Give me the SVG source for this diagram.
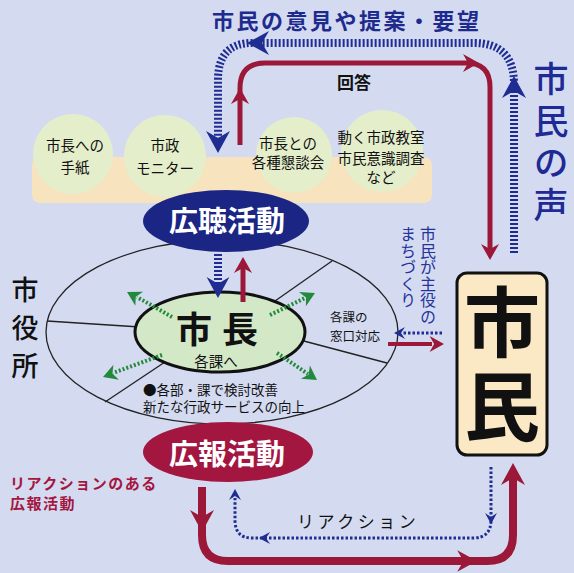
<svg xmlns="http://www.w3.org/2000/svg" xmlns:xlink="http://www.w3.org/1999/xlink" width="574" height="573" viewBox="0 0 574 573">
<style>
.jp{font-family:"Noto Sans CJK JP","Noto Sans CJK SC",sans-serif}
.ctext{font-size:14.5px;fill:#111;text-anchor:middle}
.stripe{fill:none;stroke:#1f2c92;stroke-width:8;stroke-dasharray:2 2}
.red{fill:none;stroke:#9b1838}
.dotb{fill:none;stroke:#1f2c92;stroke-width:3;stroke-dasharray:2.5 2}
.dotg{fill:none;stroke:#23893b;stroke-width:4;stroke-dasharray:2 2}
.circ{fill:#e5eecb}
.spoke{stroke:#222;stroke-width:1.3;fill:none}
</style>
<defs>
<path id="ahB" d="M0,0 L-22,-12 L-15,0 L-22,12 Z"/>
<path id="ahR" d="M0,0 L-16,-9 L-11,0 L-16,9 Z"/>
<path id="ahS" d="M0,0 L-11,-6 L-7,0 L-11,6 Z"/>
<path id="ahG" d="M0,0 L-14,-8 L-10,0 L-14,8 Z"/>
</defs>
<rect width="574" height="573" fill="#d4dbf1"/>

<g id="title">
<text class="jp" x="212" y="29" font-size="22" font-weight="700" fill="#1e2a8e" letter-spacing="2.5">市民の意見や提案・要望</text>
</g>
<g id="voice">
<text class="jp" x="551" y="61" font-size="35" font-weight="500" fill="#1e2a95" writing-mode="vertical-rl" letter-spacing="7">市民の声</text>
</g>
<g id="answer-label">
<text class="jp" x="354" y="89" font-size="17" font-weight="700" fill="#111" text-anchor="middle">回答</text>
</g>

<g id="listening-methods">
<rect x="32" y="157" width="400" height="46" rx="8" fill="#f7e3bd"/>
<circle class="circ" cx="73" cy="154" r="40"/>
<circle class="circ" cx="165" cy="156" r="41"/>
<circle class="circ" cx="294" cy="155" r="38"/>
<circle class="circ" cx="382" cy="151" r="41"/>
<text class="jp ctext" x="75" y="151">市長への</text>
<text class="jp ctext" x="75" y="173">手紙</text>
<text class="jp ctext" x="165" y="151">市政</text>
<text class="jp ctext" x="165" y="174">モニター</text>
<text class="jp ctext" x="288" y="149" font-size="12.5">市長との</text>
<text class="jp ctext" x="288" y="168" font-size="12.5">各種懇談会</text>
<text class="jp ctext" x="381" y="143" font-size="11">動く市政教室</text>
<text class="jp ctext" x="381" y="164" font-size="11">市民意識調査</text>
<text class="jp ctext" x="381" y="183" font-size="11">など</text>
</g>

<g id="city-hall">
<ellipse cx="222" cy="332" rx="176" ry="92" fill="none" stroke="#222" stroke-width="1.3"/>
<line class="spoke" x1="47" y1="321" x2="140" y2="327"/>
<line class="spoke" x1="275" y1="301" x2="332" y2="261"/>
<line class="spoke" x1="300" y1="340" x2="387" y2="363"/>
<line class="spoke" x1="165" y1="362" x2="105" y2="402"/>
<text class="jp" x="25" y="276" font-size="27" font-weight="500" fill="#111" writing-mode="vertical-rl" letter-spacing="11">市役所</text>
<text class="jp" font-size="13.5" fill="#111"><tspan x="143" y="395">●各部・課で検討改善</tspan><tspan x="143" y="412">新たな行政サービスの向上</tspan></text>
<text class="jp" font-size="12.5" fill="#111"><tspan x="330" y="322">各課の</tspan><tspan x="330" y="341">窓口対応</tspan></text>
</g>

<g id="koucho">
<ellipse cx="226" cy="221" rx="83" ry="31" fill="#1b2584"/>
<text class="jp" x="227" y="232" font-size="29" font-weight="700" fill="#fff" text-anchor="middle">広聴活動</text>
</g>

<g id="mayor">
<ellipse cx="220" cy="332" rx="85" ry="40" fill="#d3e8c6" stroke="#111" stroke-width="3"/>
<text class="jp" fill="#111" text-anchor="middle"><tspan x="222" y="343" font-size="36" font-weight="700" letter-spacing="10">市長</tspan><tspan x="216" y="367" font-size="14.5">各課へ</tspan></text>
</g>

<g id="citizens">
<rect x="457" y="273" width="90" height="182" rx="10" fill="#fbe8c4" stroke="#111" stroke-width="3"/>
<text class="jp" x="502" y="284" font-size="76" font-weight="700" fill="#111" writing-mode="vertical-rl" letter-spacing="8">市民</text>
</g>

<g id="machizukuri">
<text class="jp" x="428" y="226" font-size="16" fill="#25339a" writing-mode="vertical-rl" letter-spacing="0.6">市民が主役の</text>
<text class="jp" x="408" y="226" font-size="16" fill="#25339a" writing-mode="vertical-rl" letter-spacing="0.6">まちづくり</text>
</g>

<g id="kouhou">
<ellipse cx="228" cy="452" rx="85" ry="30" fill="#a3163f"/>
<text class="jp" x="227" y="465" font-size="29" font-weight="700" fill="#fff" text-anchor="middle">広報活動</text>
</g>

<g id="reaction-labels">
<text class="jp" x="10" y="489" font-size="15" font-weight="700" fill="#a3163f" letter-spacing="1.5">リアクションのある</text>
<text class="jp" x="10" y="509" font-size="15" font-weight="700" fill="#a3163f" letter-spacing="1.5">広報活動</text>
<text class="jp" x="297" y="528" font-size="17" fill="#111" letter-spacing="3.5">リアクション</text>
</g>

<g id="connectors">
<path class="stripe" d="M514,253 V84 Q514,43 474,43 H252 Q218,43 218,80 V140"/>
<use href="#ahB" fill="#1f2c92" transform="translate(514,76) rotate(-90)"/>
<use href="#ahB" fill="#1f2c92" transform="translate(247,43) rotate(180)"/>
<use href="#ahB" fill="#1f2c92" transform="translate(218,153) rotate(90)"/>
<path class="red" stroke-width="5" d="M240,145 V88 Q240,63 265,63 H466 Q490,63 490,87 V250"/>
<use href="#ahR" fill="#9b1838" transform="translate(240,88) rotate(-90)"/>
<use href="#ahR" fill="#9b1838" transform="translate(479,63)"/>
<use href="#ahR" fill="#9b1838" transform="translate(490,260) rotate(90)"/>
<path class="stripe" d="M218,254 V285"/>
<use href="#ahB" fill="#1f2c92" transform="translate(218,298) scale(0.95) rotate(90)"/>
<path class="red" stroke-width="5" d="M243,302 V268"/>
<use href="#ahR" fill="#9b1838" transform="translate(243,257) rotate(-90)"/>
<path class="dotg" d="M172,317 L137,297"/>
<use href="#ahG" fill="#23893b" transform="translate(127,292) rotate(-151)"/>
<path class="dotg" d="M270,315 L305,298"/>
<use href="#ahG" fill="#23893b" transform="translate(315,293) rotate(-26)"/>
<path class="dotg" d="M162,355 L113,373"/>
<use href="#ahG" fill="#23893b" transform="translate(103,377) rotate(160)"/>
<path class="dotg" d="M277,353 L308,374"/>
<use href="#ahG" fill="#23893b" transform="translate(317,380) rotate(34)"/>
<path class="dotb" d="M442,333 H402"/>
<use href="#ahS" fill="#1f2c92" transform="translate(394,333) rotate(180)"/>
<path class="red" stroke-width="4" d="M388,344 H432"/>
<use href="#ahR" fill="#9b1838" transform="translate(444,344) scale(0.9)"/>
<path class="red" stroke-width="8" d="M202,487 V535 Q202,561 228,561 H487 Q513,561 513,535 V478"/>
<use href="#ahB" fill="#9b1838" transform="translate(202,532) rotate(90)"/>
<use href="#ahB" fill="#9b1838" transform="translate(477,561) scale(0.9)"/>
<use href="#ahB" fill="#9b1838" transform="translate(513,463) rotate(-90)"/>
<path class="dotb" d="M491,467 V520 Q491,538 473,538 H252 Q235,538 235,520 V498"/>
<use href="#ahS" fill="#1f2c92" transform="translate(491,524) rotate(90)"/>
<use href="#ahS" fill="#1f2c92" transform="translate(259,538) rotate(180)"/>
<use href="#ahS" fill="#1f2c92" transform="translate(235,489) rotate(-90)"/>
</g>
</svg>
